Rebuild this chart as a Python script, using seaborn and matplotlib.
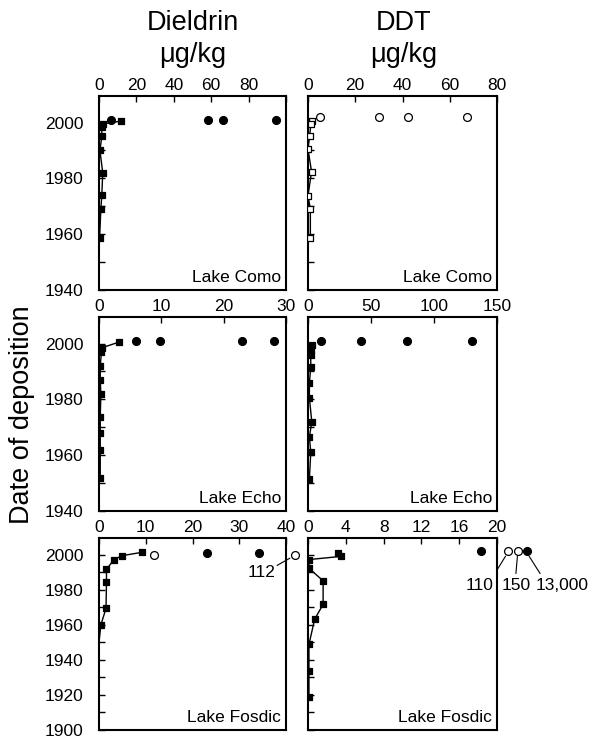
import matplotlib
matplotlib.use("Agg")
import matplotlib.pyplot as plt
import matplotlib.transforms as mtransforms
from matplotlib.ticker import MultipleLocator
import seaborn as sns

# ---------------- data ----------------
lakes = ["Lake Como", "Lake Echo", "Lake Fosdic"]
compounds = ["Dieldrin", "DDT"]
unit_label = "\u03bcg/kg"
y_axis_label = "Date of deposition"

# Lake Como
como_dieldrin_core_conc = [11.5, 2.0, 1.5, 1.5, 0.5, 2.0, 1.5, 1.0, 0.3]
como_dieldrin_core_year = [2000.5, 1999.5, 1998.5, 1995, 1990, 1982, 1974, 1969, 1958.5]
como_dieldrin_surf_conc = [6.2, 58.3, 66.3, 94.4]
como_dieldrin_surf_year = [2001, 2001, 2001, 2001]

como_ddt_core_conc = [1.5, 1.2, 0.7, 0.0, 1.5, 0.0, 1.0, 1.0]
como_ddt_core_year = [2000.7, 1999.4, 1995.2, 1990.5, 1982.4, 1973.8, 1969, 1958.7]
como_ddt_surf_conc = [5.0, 30.0, 42.2, 67.2]
como_ddt_surf_year = [2002, 2002, 2002, 2002]

# Lake Echo
echo_dieldrin_core_conc = [3.2, 0.5, 0.4, 0.2, 0.2, 0.3, 0.2, 0.2, 0.2, 0.2]
echo_dieldrin_core_year = [2000.5, 1998.5, 1997, 1992, 1987, 1982, 1973.5, 1968, 1962, 1952]
echo_dieldrin_surf_conc = [5.9, 9.8, 23.0, 28.1]
echo_dieldrin_surf_year = [2001, 2001, 2001, 2001]

echo_ddt_core_conc = [3.0, 2.2, 2.2, 2.2, 1.1, 1.1, 3.0, 1.1, 2.2, 1.1]
echo_ddt_core_year = [1999.5, 1997.5, 1996, 1991.5, 1986, 1980.5, 1972, 1966.5, 1961, 1951.5]
echo_ddt_surf_conc = [10.4, 41.7, 78.3, 130.0]
echo_ddt_surf_year = [2001, 2001, 2001, 2001]

# Lake Fosdic
fosdic_dieldrin_core_conc = [9.1, 4.9, 3.2, 1.6, 1.6, 1.5, 0.4, 0.0]
fosdic_dieldrin_core_year = [2001.3, 1999.4, 1997.2, 1991.6, 1984.2, 1969.3, 1960, 1950]
fosdic_dieldrin_core_marked = [True, True, True, True, True, True, True, False]
fosdic_dieldrin_surf_conc = [11.8, 23.0, 34.2]
fosdic_dieldrin_surf_year = [2000, 2000.7, 2000.7]
fosdic_dieldrin_surf_open = [True, False, False]
fosdic_dieldrin_offscale_value = ["112"]
fosdic_dieldrin_offscale_year = [2000]
fosdic_dieldrin_offscale_open = [True]

fosdic_ddt_core_conc = [3.2, 3.5, 0.1, 0.1, 1.6, 1.6, 0.7, 0.1, 0.1, 0.1]
fosdic_ddt_core_year = [2001, 1999, 1997.2, 1992.2, 1985.1, 1971.7, 1963.1, 1948.8, 1933.4, 1919]
fosdic_ddt_surf_conc = [18.3]
fosdic_ddt_surf_year = [2002]
fosdic_ddt_offscale_value = ["110", "150", "13,000"]
fosdic_ddt_offscale_year = [2002, 2002, 2002]
fosdic_ddt_offscale_open = [True, True, False]

# axis ticks
dieldrin_xticks = [[0, 20, 40, 60, 80, 100], [0, 10, 20, 30], [0, 10, 20, 30, 40]]
dieldrin_xticklabels = [["0", "20", "40", "60", "80", ""], ["0", "10", "20", "30"],
                        ["0", "10", "20", "30", "40"]]
ddt_xticks = [[0, 20, 40, 60, 80], [0, 50, 100, 150], [0, 4, 8, 12, 16, 20]]
ddt_xticklabels = [["0", "20", "40", "60", "80"], ["0", "50", "100", "150"],
                   ["0", "4", "8", "12", "16", "20"]]
ylims = [(1940, 2009.5), (1940, 2009.5), (1900, 2009.5)]

# ---------------- style ----------------
sns.set_style("ticks")
plt.rcParams["font.family"] = ["Liberation Sans", "DejaVu Sans"]
plt.rcParams["axes.linewidth"] = 1.5
plt.rcParams["text.color"] = "black"
plt.rcParams["axes.labelcolor"] = "black"
plt.rcParams["xtick.color"] = "black"
plt.rcParams["ytick.color"] = "black"

W, H = 597, 738
fig = plt.figure(figsize=(W / 100, H / 100), dpi=100)

col_px = [(99, 286), (308, 497)]
row_px = [(96, 290), (317, 511), (538, 730)]

TICK_FS = 12.5


def make_ax(r, c):
    x0, x1 = col_px[c]
    t, b = row_px[r]
    return fig.add_axes([x0 / W, 1 - b / H, (x1 - x0) / W, (b - t) / H])


def draw_core(ax, conc, year, face, marked=None):
    sns.lineplot(x=conc, y=year, sort=False, estimator=None, color="black",
                 lw=1.0, ax=ax)
    if marked is None:
        mx, my = conc, year
    else:
        mx = [v for v, m in zip(conc, marked) if m]
        my = [v for v, m in zip(year, marked) if m]
    sns.scatterplot(x=mx, y=my, marker="s", s=22, color=face,
                    edgecolor="black", linewidth=0.9, ax=ax, zorder=3)


def draw_surface(ax, conc, year, open_flags):
    for xv, yv, op in zip(conc, year, open_flags):
        sns.scatterplot(x=[xv], y=[yv], marker="o", s=32,
                        color="white" if op else "black",
                        edgecolor="black", linewidth=0.9, ax=ax, zorder=3)


def style_ax(ax, r, c, xticks, xticklabels, label):
    ax.set_xlim(xticks[0], xticks[-1])
    ax.set_ylim(*ylims[r])
    ax.xaxis.tick_top()
    ax.set_xticks(xticks)
    ax.set_xticklabels(xticklabels)
    ax.yaxis.set_major_locator(MultipleLocator(20))
    ax.yaxis.set_minor_locator(MultipleLocator(10))
    ax.tick_params(axis="both", which="both", direction="in", length=4,
                   width=1, labelsize=TICK_FS, colors="black")
    ax.tick_params(axis="x", pad=2)
    ax.tick_params(axis="y", pad=11)
    if c == 1:
        ax.tick_params(axis="y", labelleft=False)
    ax.set_xlabel("")
    ax.set_ylabel("")
    for s in ax.spines.values():
        s.set_visible(True)
        s.set_color("black")
        s.set_linewidth(1.5)
    ax.text(0.975, 0.04, label, transform=ax.transAxes, ha="right",
            va="baseline", fontsize=TICK_FS)


def offscale(ax, year, open_flags, xfracs):
    tr = mtransforms.blended_transform_factory(ax.transAxes, ax.transData)
    for xf, yv, op in zip(xfracs, year, open_flags):
        ax.scatter([xf], [yv], marker="o", s=32,
                   facecolor="white" if op else "black", edgecolor="black",
                   linewidth=0.9, transform=tr, clip_on=False, zorder=4)


def leader(ax, p0, p1):
    ax.plot([p0[0], p1[0]], [p0[1], p1[1]], color="black", lw=0.8,
            transform=ax.transAxes, clip_on=False)


# Row 1 : Como
ax = make_ax(0, 0)
draw_core(ax, como_dieldrin_core_conc, como_dieldrin_core_year, "black")
draw_surface(ax, como_dieldrin_surf_conc, como_dieldrin_surf_year,
             [False] * len(como_dieldrin_surf_conc))
style_ax(ax, 0, 0, dieldrin_xticks[0], dieldrin_xticklabels[0], lakes[0])

ax = make_ax(0, 1)
draw_core(ax, como_ddt_core_conc, como_ddt_core_year, "white")
draw_surface(ax, como_ddt_surf_conc, como_ddt_surf_year,
             [True] * len(como_ddt_surf_conc))
style_ax(ax, 0, 1, ddt_xticks[0], ddt_xticklabels[0], lakes[0])

# Row 2 : Echo
ax = make_ax(1, 0)
draw_core(ax, echo_dieldrin_core_conc, echo_dieldrin_core_year, "black")
draw_surface(ax, echo_dieldrin_surf_conc, echo_dieldrin_surf_year,
             [False] * len(echo_dieldrin_surf_conc))
style_ax(ax, 1, 0, dieldrin_xticks[1], dieldrin_xticklabels[1], lakes[1])

ax = make_ax(1, 1)
draw_core(ax, echo_ddt_core_conc, echo_ddt_core_year, "black")
draw_surface(ax, echo_ddt_surf_conc, echo_ddt_surf_year,
             [False] * len(echo_ddt_surf_conc))
style_ax(ax, 1, 1, ddt_xticks[1], ddt_xticklabels[1], lakes[1])

# Row 3 : Fosdic
ax = make_ax(2, 0)
draw_core(ax, fosdic_dieldrin_core_conc, fosdic_dieldrin_core_year, "black",
          fosdic_dieldrin_core_marked)
draw_surface(ax, fosdic_dieldrin_surf_conc, fosdic_dieldrin_surf_year,
             fosdic_dieldrin_surf_open)
style_ax(ax, 2, 0, dieldrin_xticks[2], dieldrin_xticklabels[2], lakes[2])
offscale(ax, fosdic_dieldrin_offscale_year, fosdic_dieldrin_offscale_open, [1.048])
leader(ax, (0.952, 0.857), (1.021, 0.895))
ax.text(0.87, 0.82, fosdic_dieldrin_offscale_value[0], transform=ax.transAxes,
        ha="center", va="center", fontsize=TICK_FS)

ax = make_ax(2, 1)
draw_core(ax, fosdic_ddt_core_conc, fosdic_ddt_core_year, "black")
draw_surface(ax, fosdic_ddt_surf_conc, fosdic_ddt_surf_year, [False])
style_ax(ax, 2, 1, ddt_xticks[2], ddt_xticklabels[2], lakes[2])
offscale(ax, fosdic_ddt_offscale_year, fosdic_ddt_offscale_open, [1.06, 1.11, 1.16])
leader(ax, (1.045, 0.905), (0.998, 0.83))
leader(ax, (1.108, 0.905), (1.10, 0.815))
leader(ax, (1.17, 0.905), (1.228, 0.815))
for lbl, xf in zip(fosdic_ddt_offscale_value, [0.91, 1.104, 1.342]):
    ax.text(xf, 0.75, lbl, transform=ax.transAxes, ha="center", va="center",
            fontsize=TICK_FS)

# Column titles
for name, xc in zip(compounds, [193, 404]):
    fig.text(xc / W, 1 - 30 / H, name, ha="center", va="baseline", fontsize=19.5)
    fig.text(xc / W, 1 - 62.5 / H, unit_label, ha="center", va="baseline", fontsize=19.5)

fig.text(22 / W, 1 - 415 / H, y_axis_label, rotation=90, ha="center",
         va="center", fontsize=19.5)

fig.savefig("out.png", dpi=100)
